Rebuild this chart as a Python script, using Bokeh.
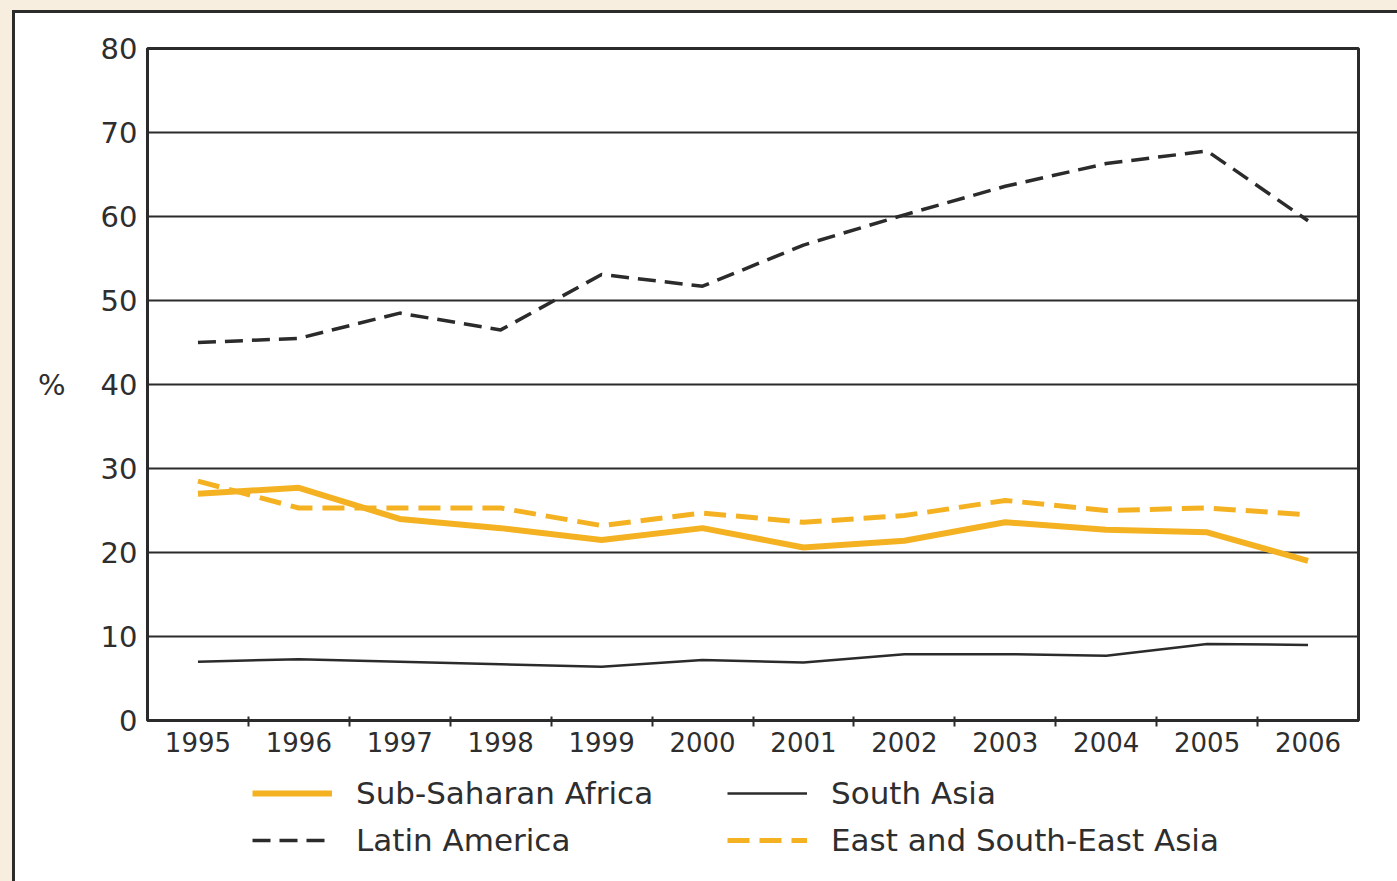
from bokeh.plotting import figure
from bokeh.layouts import column
from bokeh.models import FixedTicker, Legend, LegendItem, Range1d
from bokeh.embed import file_html
from bokeh.resources import INLINE

years = [1995, 1996, 1997, 1998, 1999, 2000, 2001, 2002, 2003, 2004, 2005, 2006]
sub_saharan = [27.0, 27.7, 24.0, 22.9, 21.5, 22.9, 20.6, 21.4, 23.6, 22.7, 22.4, 19.0]
latin_america = [45.0, 45.5, 48.5, 46.5, 53.1, 51.7, 56.6, 60.2, 63.6, 66.3, 67.8, 59.5]
south_asia = [7.0, 7.3, 7.0, 6.7, 6.4, 7.2, 6.9, 7.9, 7.9, 7.7, 9.1, 9.0]
east_asia = [28.5, 25.3, 25.3, 25.3, 23.2, 24.7, 23.6, 24.4, 26.2, 25.0, 25.3, 24.5]
y_ticks = [0, 10, 20, 30, 40, 50, 60, 70, 80]

names = ["Sub-Saharan Africa", "Latin America", "South Asia", "East and South-East Asia"]

FONT = "DejaVu Sans"
TXT = "#2e2e2e"
DARK = "#2b2b2b"
ORANGE = "#F4B223"
BEIGE = "#F8EEDF"

styles = [
    dict(line_color=ORANGE, line_width=6),
    dict(line_color=DARK, line_width=3.5, line_dash="18 9"),
    dict(line_color=DARK, line_width=2.5),
    dict(line_color=ORANGE, line_width=5, line_dash="22 10"),
]
series = [sub_saharan, latin_america, south_asia, east_asia]

p = figure(frame_width=1211, frame_height=672, output_backend="svg", toolbar_location=None,
           x_range=Range1d(years[0] - 0.5, years[-1] + 0.5),
           y_range=Range1d(y_ticks[0], y_ticks[-1]),
           min_border_left=132, min_border_right=39, min_border_top=35, min_border_bottom=45,
           background_fill_color="white", border_fill_color="white")

p.outline_line_color = DARK
p.outline_line_width = 3

# x axis: labels at category centres, ticks at category boundaries
bounds = [y + 0.5 for y in years[:-1]]
p.xaxis.ticker = FixedTicker(ticks=years, minor_ticks=bounds)
p.xaxis.major_label_overrides = {y: str(y) for y in years}
p.xaxis.major_tick_line_color = None
p.xaxis.major_tick_in = 0
p.xaxis.major_tick_out = 6
p.xaxis.minor_tick_line_color = DARK
p.xaxis.minor_tick_line_width = 2
p.xaxis.minor_tick_in = 4
p.xaxis.minor_tick_out = 6
p.xaxis.axis_line_color = DARK
p.xaxis.axis_line_width = 3
p.xaxis.major_label_standoff = 5
p.xaxis.major_label_text_font = FONT
p.xaxis.major_label_text_font_size = "26px"
p.xaxis.major_label_text_color = TXT
p.xgrid.grid_line_color = None

# y axis
p.yaxis.ticker = FixedTicker(ticks=y_ticks)
p.yaxis.major_tick_line_color = None
p.yaxis.major_tick_in = 0
p.yaxis.major_tick_out = 0
p.yaxis.minor_tick_line_color = None
p.yaxis.axis_line_color = DARK
p.yaxis.axis_line_width = 2.5
p.yaxis.major_label_standoff = 10
p.yaxis.major_label_text_font = FONT
p.yaxis.major_label_text_font_size = "29px"
p.yaxis.major_label_text_color = TXT
p.yaxis.axis_label = "%"
p.yaxis.axis_label_orientation = "horizontal"
p.yaxis.axis_label_text_font = FONT
p.yaxis.axis_label_text_font_size = "29px"
p.yaxis.axis_label_text_font_style = "normal"
p.yaxis.axis_label_text_color = TXT
p.yaxis.axis_label_standoff = 32
p.ygrid.grid_line_color = DARK
p.ygrid.grid_line_width = 2

for ys, st in zip(series, styles):
    p.line(years, ys, **st)

# legend strip below the chart (its own small figure; its lines lie outside its view)
leg = figure(width=1382, height=116, output_backend="svg", toolbar_location=None,
             x_range=Range1d(0, 1), y_range=Range1d(0, 1),
             x_axis_type=None, y_axis_type=None, min_border=0,
             background_fill_color="white", border_fill_color="white")
leg.outline_line_color = None
leg.grid.grid_line_color = None
items = []
for name, ys, st in zip(names, series, styles):
    r = leg.line(years, ys, **st)
    items.append(LegendItem(label=name, renderers=[r]))

legend = Legend(items=items, orientation="vertical", nrows=2, location=(105, 23))
legend.border_line_color = None
legend.background_fill_color = None
legend.margin = 0
legend.padding = 0
legend.spacing = 11
legend.glyph_width = 80
legend.glyph_height = 30
legend.label_height = 30
legend.label_width = 360
legend.label_standoff = 24
legend.label_text_font = FONT
legend.label_text_font_size = "31px"
legend.label_text_color = TXT
leg.add_layout(legend, "center")

layout = column(p, leg, spacing=0)

html = file_html(layout, INLINE)
css = ("<style>html{margin:0;padding:0;background:%s;overflow:hidden;}"
       "body{margin:10px 0 0 12px;padding:0;background:#ffffff;height:900px;overflow:hidden;"
       "border-left:3px solid %s;border-top:3px solid %s;}</style></head>") % (BEIGE, DARK, DARK)
html = html.replace("</head>", css, 1)
open("out.html", "w").write(html)
